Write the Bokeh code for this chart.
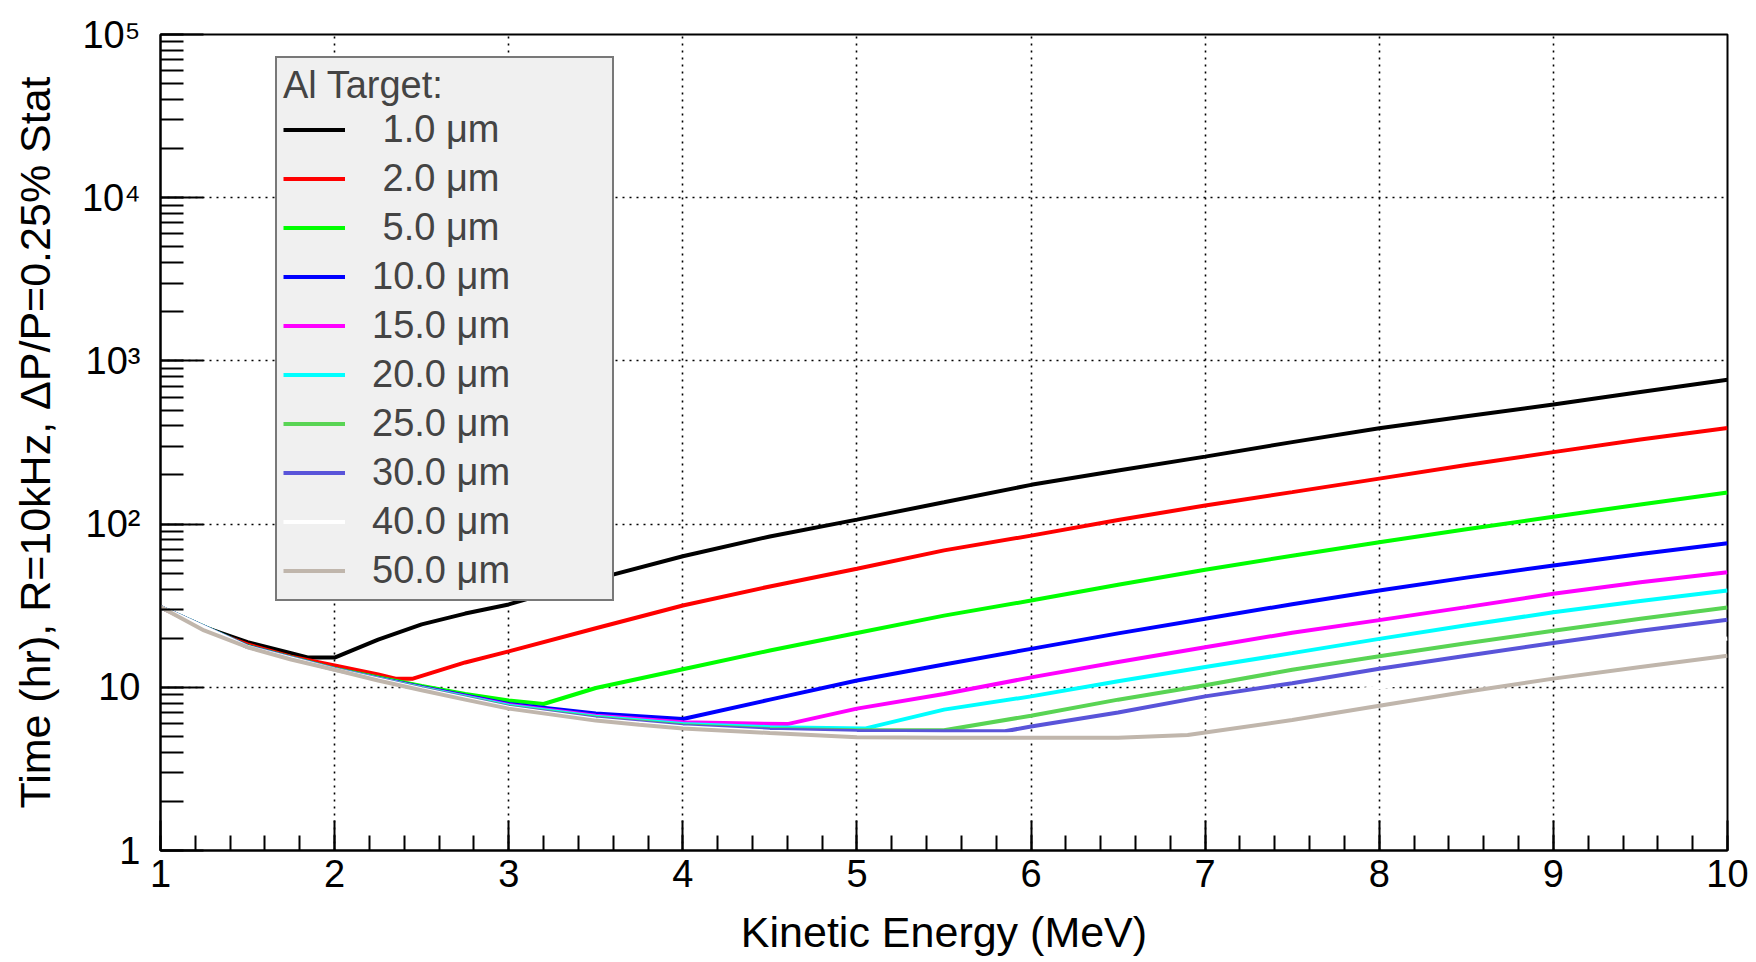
from bokeh.plotting import figure
from bokeh.models import Legend, LegendItem, SingleIntervalTicker, LogTicker, Range1d
from bokeh.embed import file_html
from bokeh.resources import INLINE

# ---------------- data ----------------
labels = ["\u00a01.0 \u03bcm", "\u00a02.0 \u03bcm", "\u00a05.0 \u03bcm", "10.0 \u03bcm", "15.0 \u03bcm",
          "20.0 \u03bcm", "25.0 \u03bcm", "30.0 \u03bcm", "40.0 \u03bcm", "50.0 \u03bcm"]
colors = ["#000000", "#ff0000", "#00ff00", "#0000ff", "#ff00ff",
          "#00ffff", "#59d454", "#5954d9", "#ffffff", "#c0b6ac"]

e_1um = [1.0, 1.25, 1.5, 1.75, 1.85, 2.0, 2.25, 2.5, 2.75, 3.0, 3.5, 4.0, 4.5, 5.0, 5.5, 6.0, 6.5, 7.0, 7.5, 8.0, 8.5, 9.0, 9.5, 10.0]
t_1um = [31.0, 23.4, 18.9, 16.2, 15.2, 15.2, 19.6, 24.3, 28.3, 32.2, 46.0, 63.5, 84.0, 106.5, 136.0, 174.0, 213.0, 259.0, 318.0, 387.0, 458.0, 541.0, 645.0, 766.0]

e_2um = [1.0, 1.25, 1.5, 1.75, 2.0, 2.25, 2.35, 2.45, 2.75, 3.0, 3.5, 4.0, 4.5, 5.0, 5.5, 6.0, 6.5, 7.0, 7.5, 8.0, 8.5, 9.0, 9.5, 10.0]
t_2um = [31.0, 22.9, 18.3, 15.4, 13.6, 12.0, 11.3, 11.3, 14.2, 16.6, 23.0, 31.7, 41.5, 53.2, 69.0, 85.0, 106.0, 130.0, 157.0, 190.0, 230.0, 276.0, 330.0, 388.0]

e_5um = [1.0, 1.5, 2.0, 2.5, 2.75, 3.0, 3.2, 3.5, 4.0, 4.5, 5.0, 5.5, 6.0, 6.5, 7.0, 7.5, 8.0, 8.5, 9.0, 9.5, 10.0]
t_5um = [31.0, 17.9, 13.0, 10.2, 9.1, 8.3, 7.9, 9.9, 12.9, 16.8, 21.5, 27.5, 34.0, 42.5, 52.5, 64.0, 77.5, 93.0, 111.0, 132.0, 156.0]

e_10um = [1.0, 1.5, 2.0, 2.5, 3.0, 3.5, 4.0, 4.5, 5.0, 5.5, 6.0, 6.5, 7.0, 7.5, 8.0, 8.5, 9.0, 9.5, 10.0]
t_10um = [31.0, 17.8, 12.9, 10.0, 7.9, 6.9, 6.4, 8.4, 11.0, 13.8, 17.2, 21.4, 26.3, 32.3, 39.2, 47.0, 55.8, 65.5, 76.4]

e_15um = [1.0, 1.5, 2.0, 2.5, 3.0, 3.5, 4.0, 4.6, 5.0, 5.5, 6.0, 6.5, 7.0, 7.5, 8.0, 8.5, 9.0, 9.5, 10.0]
t_15um = [31.0, 17.7, 12.9, 9.95, 7.8, 6.7, 6.1, 5.95, 7.4, 9.1, 11.5, 14.3, 17.6, 21.6, 25.8, 31.0, 37.4, 44.0, 50.7]

e_20um = [1.0, 1.5, 2.0, 2.5, 3.0, 3.5, 4.0, 4.5, 5.05, 5.5, 6.0, 6.5, 7.0, 7.5, 8.0, 8.5, 9.0, 9.5, 10.0]
t_20um = [31.0, 17.7, 12.9, 9.9, 7.7, 6.6, 5.95, 5.7, 5.6, 7.3, 8.8, 10.9, 13.3, 16.2, 19.8, 24.0, 28.8, 33.8, 39.2]

e_25um = [1.0, 1.5, 2.0, 2.5, 3.0, 3.5, 4.0, 4.5, 5.0, 5.5, 6.0, 6.5, 7.0, 7.5, 8.0, 8.5, 9.0, 9.5, 10.0]
t_25um = [31.0, 17.7, 12.85, 9.85, 7.6, 6.5, 5.85, 5.55, 5.45, 5.45, 6.7, 8.4, 10.3, 12.8, 15.5, 18.6, 22.2, 26.3, 30.8]

e_30um = [1.0, 1.5, 2.0, 2.5, 3.0, 3.5, 4.0, 4.5, 5.0, 5.5, 5.85, 6.0, 6.5, 7.0, 7.5, 8.0, 8.5, 9.0, 9.5, 10.0]
t_30um = [31.0, 17.7, 12.85, 9.8, 7.55, 6.45, 5.8, 5.5, 5.4, 5.38, 5.38, 5.75, 7.0, 8.8, 10.6, 13.0, 15.6, 18.7, 22.2, 25.9]

e_40um = [1.0, 1.5, 2.0, 2.5, 3.0, 3.5, 4.0, 4.5, 5.0, 5.5, 6.0, 6.3, 6.5, 7.0, 7.5, 8.0, 8.5, 9.0, 9.5, 10.0]
t_40um = [31.0, 17.65, 12.8, 9.75, 7.5, 6.35, 5.7, 5.35, 5.2, 5.15, 5.15, 5.15, 5.6, 6.8, 8.3, 10.0, 12.0, 14.2, 16.8, 19.9]

e_50um = [1.0, 1.25, 1.5, 1.75, 2.0, 2.25, 2.5, 2.75, 3.0, 3.25, 3.5, 3.75, 4.0, 4.5, 5.0, 5.5, 6.0, 6.5, 6.9, 7.5, 8.0, 8.5, 9.0, 9.5, 10.0]
t_50um = [31.0, 22.3, 17.6, 14.8, 12.8, 11.0, 9.6, 8.4, 7.4, 6.8, 6.25, 5.9, 5.6, 5.25, 4.95, 4.9, 4.9, 4.9, 5.1, 6.3, 7.7, 9.4, 11.3, 13.3, 15.6]

energies = [e_1um, e_2um, e_5um, e_10um, e_15um, e_20um, e_25um, e_30um, e_40um, e_50um]
times = [t_1um, t_2um, t_5um, t_10um, t_15um, t_20um, t_25um, t_30um, t_40um, t_50um]

y_tick_labels = {1: "1", 10: "10", 100: "10\u00b2", 1000: "10\u00b3", 10000: "10\u2074", 100000: "10\u2075"}

# ---------------- figure ----------------
FONT = "Liberation Sans"

p = figure(width=1756, height=962,
           x_range=Range1d(1, 10), y_range=Range1d(1, 1e5), y_axis_type="log",
           output_backend="svg", toolbar_location=None,
           min_border_left=160, min_border_right=29, min_border_top=34, min_border_bottom=112)

p.background_fill_color = "white"
p.border_fill_color = "white"
p.outline_line_color = "black"
p.outline_line_width = 2

renderers = []
for e, t, c in zip(energies, times, colors):
    r = p.line(e, t, line_color=c, line_width=4)
    renderers.append(r)

# axes
xa = p.xaxis[0]
xa.ticker = SingleIntervalTicker(interval=1, num_minor_ticks=5)
xa.axis_label = "Kinetic Energy (MeV)"
ya = p.yaxis[0]
ya.ticker = LogTicker(desired_num_ticks=6, num_minor_ticks=10)
ya.axis_label = "Time (hr), R=10kHz, \u0394P/P=0.25% Stat"
ya.major_label_overrides = y_tick_labels

for ax in (xa, ya):
    ax.axis_line_color = "black"
    ax.axis_line_width = 2
    ax.major_tick_line_color = "black"
    ax.minor_tick_line_color = "black"
    ax.major_tick_line_width = 2
    ax.minor_tick_line_width = 2
    ax.major_tick_out = 0
    ax.minor_tick_out = 0
    ax.major_label_text_font = FONT
    ax.major_label_text_font_size = "38px"
    ax.major_label_text_color = "black"
    ax.axis_label_text_font = FONT
    ax.axis_label_text_font_size = "43px"
    ax.axis_label_text_font_style = "normal"
    ax.axis_label_text_color = "black"

xa.major_tick_in = 30
xa.minor_tick_in = 15
xa.major_label_standoff = 9
xa.axis_label_standoff = 18

ya.major_tick_in = 43
ya.minor_tick_in = 23
ya.major_label_standoff = 20
ya.axis_label_standoff = 20

for g in (p.xgrid[0], p.ygrid[0]):
    g.grid_line_color = "black"
    g.grid_line_dash = "2 5"
    g.grid_line_width = 1.6

# legend
items = [LegendItem(label=lab, renderers=[r]) for lab, r in zip(labels, renderers)]
legend = Legend(items=items, location=(115, 249), title="Al Target:",
                title_text_font=FONT, title_text_font_size="38px", title_text_font_style="normal",
                title_standoff=0,
                label_text_font=FONT, label_text_font_size="38px",
                glyph_width=62, glyph_height=45, label_height=45, label_width=234,
                label_standoff=27, spacing=4, padding=6, margin=0,
                background_fill_color="#f0f0f0", background_fill_alpha=1.0,
                border_line_color="black", border_line_width=2)
p.add_layout(legend, "center")

open("out.html", "w").write(file_html(p, INLINE))
